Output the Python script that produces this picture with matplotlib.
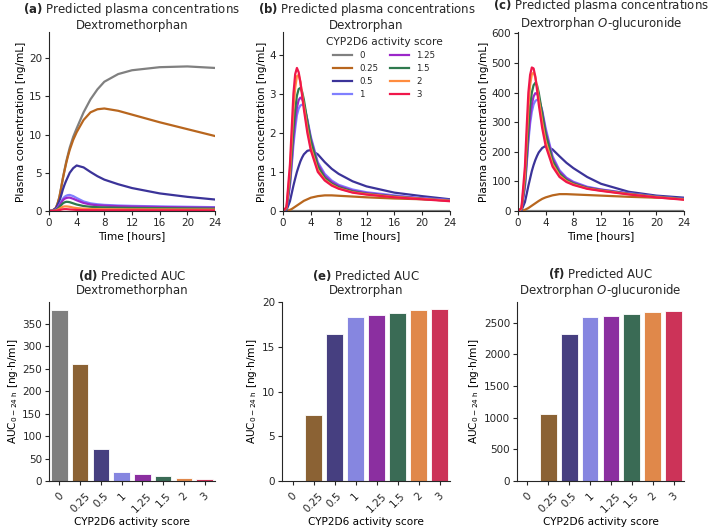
import matplotlib
matplotlib.use('Agg')
import matplotlib.pyplot as plt
import numpy as np

plt.rcParams['font.family'] = ['DejaVu Sans']
plt.rcParams['axes.edgecolor'] = '#262626'
plt.rcParams['xtick.color'] = '#262626'
plt.rcParams['ytick.color'] = '#262626'
plt.rcParams['text.color'] = '#262626'

scores = ['0', '0.25', '0.5', '1', '1.25', '1.5', '2', '3']
line_colors = ['#808080', '#B8661E', '#3B3399', '#7F7FFF', '#9B27C9', '#2F7A4E', '#FF8C3F', '#F0174A']
bar_colors = ['#7F7F7F', '#8B6234', '#463F80', '#8686E0', '#8B2FA0', '#3A6B55', '#E0884A', '#CC3358']

time_h = [0, 0.5, 1, 1.25, 1.5, 1.75, 2, 2.25, 2.5, 2.75, 3, 3.5, 4, 5, 6, 7, 8, 10, 12, 16, 20, 24]

# dextromethorphan [ng/mL]
dxm = {
    '0':    [0, 0.05, 0.4, 1.0, 1.8, 3.0, 4.3, 5.4, 6.5, 7.4, 8.3, 9.7, 10.8, 12.9, 14.6, 15.9, 16.9, 17.9, 18.4, 18.8, 18.9, 18.7],
    '0.25': [0, 0.05, 0.4, 1.0, 1.8, 3.0, 4.2, 5.3, 6.3, 7.2, 8.0, 9.3, 10.3, 11.9, 12.9, 13.3, 13.4, 13.1, 12.6, 11.6, 10.7, 9.8],
    '0.5':  [0, 0.04, 0.35, 0.8, 1.3, 2.0, 2.8, 3.45, 4.0, 4.5, 5.0, 5.6, 5.95, 5.7, 5.1, 4.55, 4.1, 3.5, 3.0, 2.3, 1.85, 1.5],
    '1':    [0, 0.02, 0.2, 0.45, 0.8, 1.2, 1.6, 1.85, 2.0, 2.08, 2.1, 1.95, 1.7, 1.25, 1.0, 0.88, 0.8, 0.72, 0.67, 0.6, 0.55, 0.5],
    '1.25': [0, 0.02, 0.17, 0.4, 0.7, 1.05, 1.4, 1.6, 1.7, 1.75, 1.75, 1.6, 1.4, 1.05, 0.85, 0.75, 0.7, 0.63, 0.58, 0.52, 0.47, 0.43],
    '1.5':  [0, 0.01, 0.12, 0.28, 0.5, 0.75, 1.0, 1.13, 1.2, 1.19, 1.15, 1.0, 0.85, 0.65, 0.55, 0.5, 0.47, 0.43, 0.4, 0.37, 0.34, 0.31],
    '2':    [0, 0.01, 0.07, 0.17, 0.3, 0.43, 0.55, 0.6, 0.6, 0.58, 0.55, 0.45, 0.38, 0.3, 0.26, 0.24, 0.23, 0.22, 0.21, 0.2, 0.19, 0.18],
    '3':    [0, 0, 0.03, 0.07, 0.12, 0.17, 0.22, 0.24, 0.24, 0.22, 0.2, 0.17, 0.14, 0.11, 0.1, 0.1, 0.09, 0.09, 0.09, 0.08, 0.08, 0.07],
}
# dextrorphan [ng/mL]
dxo = {
    '0':    [0] * 22,
    '0.25': [0, 0, 0.03, 0.05, 0.08, 0.11, 0.14, 0.17, 0.2, 0.23, 0.26, 0.3, 0.34, 0.38, 0.4, 0.4, 0.39, 0.37, 0.35, 0.32, 0.3, 0.28],
    '0.5':  [0, 0.02, 0.25, 0.45, 0.65, 0.83, 1.0, 1.14, 1.27, 1.37, 1.45, 1.54, 1.56, 1.45, 1.25, 1.08, 0.95, 0.76, 0.63, 0.47, 0.38, 0.3],
    '1':    [0, 0.05, 0.65, 1.15, 1.7, 2.1, 2.45, 2.62, 2.7, 2.72, 2.7, 2.35, 1.9, 1.25, 0.95, 0.78, 0.67, 0.55, 0.48, 0.4, 0.33, 0.28],
    '1.25': [0, 0.05, 0.7, 1.25, 1.85, 2.3, 2.65, 2.84, 2.9, 2.87, 2.75, 2.3, 1.85, 1.2, 0.9, 0.74, 0.64, 0.52, 0.46, 0.38, 0.32, 0.27],
    '1.5':  [0, 0.06, 0.8, 1.45, 2.1, 2.6, 2.95, 3.12, 3.15, 3.05, 2.85, 2.3, 1.8, 1.15, 0.85, 0.7, 0.61, 0.5, 0.44, 0.37, 0.31, 0.26],
    '2':    [0, 0.08, 1.0, 1.8, 2.6, 3.15, 3.45, 3.48, 3.3, 3.0, 2.7, 2.1, 1.62, 1.05, 0.8, 0.67, 0.58, 0.48, 0.43, 0.36, 0.31, 0.26],
    '3':    [0, 0.1, 1.2, 2.1, 3.0, 3.5, 3.66, 3.55, 3.3, 2.95, 2.6, 2.0, 1.55, 1.0, 0.78, 0.65, 0.57, 0.47, 0.42, 0.35, 0.3, 0.25],
}
# dextrorphan O-glucuronide [ng/mL]
dxog = {
    '0':    [0] * 22,
    '0.25': [0, 0, 4, 7, 10, 14, 18, 22, 26, 30, 34, 41, 46, 53, 57, 57, 56, 54, 52, 48, 45, 42],
    '0.5':  [0, 2, 30, 57, 85, 110, 135, 155, 172, 186, 198, 213, 220, 208, 185, 163, 145, 115, 92, 65, 52, 45],
    '1':    [0, 5, 80, 155, 235, 295, 335, 360, 372, 376, 375, 340, 280, 185, 138, 113, 99, 82, 73, 60, 49, 41],
    '1.25': [0, 5, 85, 165, 250, 315, 360, 387, 398, 397, 385, 335, 270, 178, 133, 110, 96, 80, 72, 59, 48, 40],
    '1.5':  [0, 6, 95, 185, 280, 355, 400, 425, 433, 425, 400, 330, 260, 170, 127, 105, 93, 78, 70, 58, 48, 40],
    '2':    [0, 8, 120, 235, 350, 425, 462, 468, 452, 420, 380, 300, 235, 158, 120, 101, 90, 76, 69, 57, 47, 39],
    '3':    [0, 10, 150, 280, 400, 460, 485, 482, 455, 410, 360, 280, 220, 150, 115, 98, 88, 75, 68, 56, 46, 38],
}

auc_dxm = [380, 260, 72, 20, 16, 11, 6, 3.5]
auc_dxo = [0, 7.4, 16.5, 18.4, 18.6, 18.85, 19.1, 19.3]
auc_dxog = [0, 1050, 2320, 2585, 2610, 2635, 2670, 2690]

fig = plt.figure(figsize=(7.09, 5.27), dpi=100)
W, H = 709, 527

def add_ax(l, r, top, bot):
    return fig.add_axes([l / W, 1 - bot / H, (r - l) / W, (bot - top) / H])

ax_a = add_ax(49, 215, 32, 211)
ax_b = add_ax(283, 450, 32, 211)
ax_c = add_ax(518, 684, 32, 211)
ax_d = add_ax(49, 215, 302, 481)
ax_e = add_ax(282, 450, 302, 481)
ax_f = add_ax(517, 684, 302, 481)

fs = 7.6     # axis labels
tks = 7.5    # tick labels
tfs = 8.5    # titles

line_panels = [
    (ax_a, dxm, 23.4, [0, 5, 10, 15, 20], r'$\bf{(a)}$ Predicted plasma concentrations' + '\nDextromethorphan'),
    (ax_b, dxo, 4.58, [0, 1, 2, 3, 4], r'$\bf{(b)}$ Predicted plasma concentrations' + '\nDextrorphan'),
    (ax_c, dxog, 605, [0, 100, 200, 300, 400, 500, 600], r'$\bf{(c)}$ Predicted plasma concentrations' + '\nDextrorphan $\it{O}$-glucuronide'),
]
for ax, data, ymax, yt, title in line_panels:
    for s, c in zip(scores, line_colors):
        ax.plot(time_h, data[s], color=c, lw=1.6, label=s)
    ax.set_xlim(0, 24)
    ax.set_ylim(0, ymax)
    ax.set_xticks([0, 4, 8, 12, 16, 20, 24])
    ax.set_yticks(yt)
    ax.set_xlabel('Time [hours]', fontsize=fs, labelpad=2)
    ax.set_ylabel('Plasma concentration [ng/mL]', fontsize=fs, labelpad=2)
    ax.set_title(title, fontsize=tfs, pad=1, linespacing=1.05)
    ax.spines['top'].set_visible(False)
    ax.spines['right'].set_visible(False)
    ax.tick_params(labelsize=tks, length=3, pad=2)

leg = ax_b.legend(title='CYP2D6 activity score', ncol=2, frameon=False, fontsize=6.2,
                  title_fontsize=7.7, handlelength=2.2, handletextpad=0.9, columnspacing=1.3,
                  labelspacing=0.45, borderaxespad=0.2, loc='upper center',
                  bbox_to_anchor=(0.605, 1.0))

bar_panels = [
    (ax_d, auc_dxm, 398, [0, 50, 100, 150, 200, 250, 300, 350], r'$\bf{(d)}$ Predicted AUC' + '\nDextromethorphan'),
    (ax_e, auc_dxo, 20.05, [0, 5, 10, 15, 20], r'$\bf{(e)}$ Predicted AUC' + '\nDextrorphan'),
    (ax_f, auc_dxog, 2825, [0, 500, 1000, 1500, 2000, 2500], r'$\bf{(f)}$ Predicted AUC' + '\nDextrorphan $\it{O}$-glucuronide'),
]
for ax, vals, ymax, yt, title in bar_panels:
    x = np.arange(len(scores))
    ax.bar(x, vals, width=0.8, color=bar_colors, edgecolor='white', linewidth=0.6)
    ax.set_xlim(-0.5, len(scores) - 0.5)
    ax.set_ylim(0, ymax)
    ax.set_xticks(x)
    ax.set_xticklabels(scores, rotation=45)
    ax.set_yticks(yt)
    ax.set_xlabel('CYP2D6 activity score', fontsize=fs, labelpad=2)
    ax.set_ylabel(r'AUC$_{0-24\ \mathrm{h}}$ [ng·h/ml]', fontsize=fs, labelpad=2)
    ax.set_title(title, fontsize=tfs, pad=6, linespacing=1.05)
    ax.spines['top'].set_visible(False)
    ax.spines['right'].set_visible(False)
    ax.tick_params(labelsize=tks, length=3, pad=2)
    ax.tick_params(axis='x', pad=4)

fig.savefig('out.png', dpi=100)
